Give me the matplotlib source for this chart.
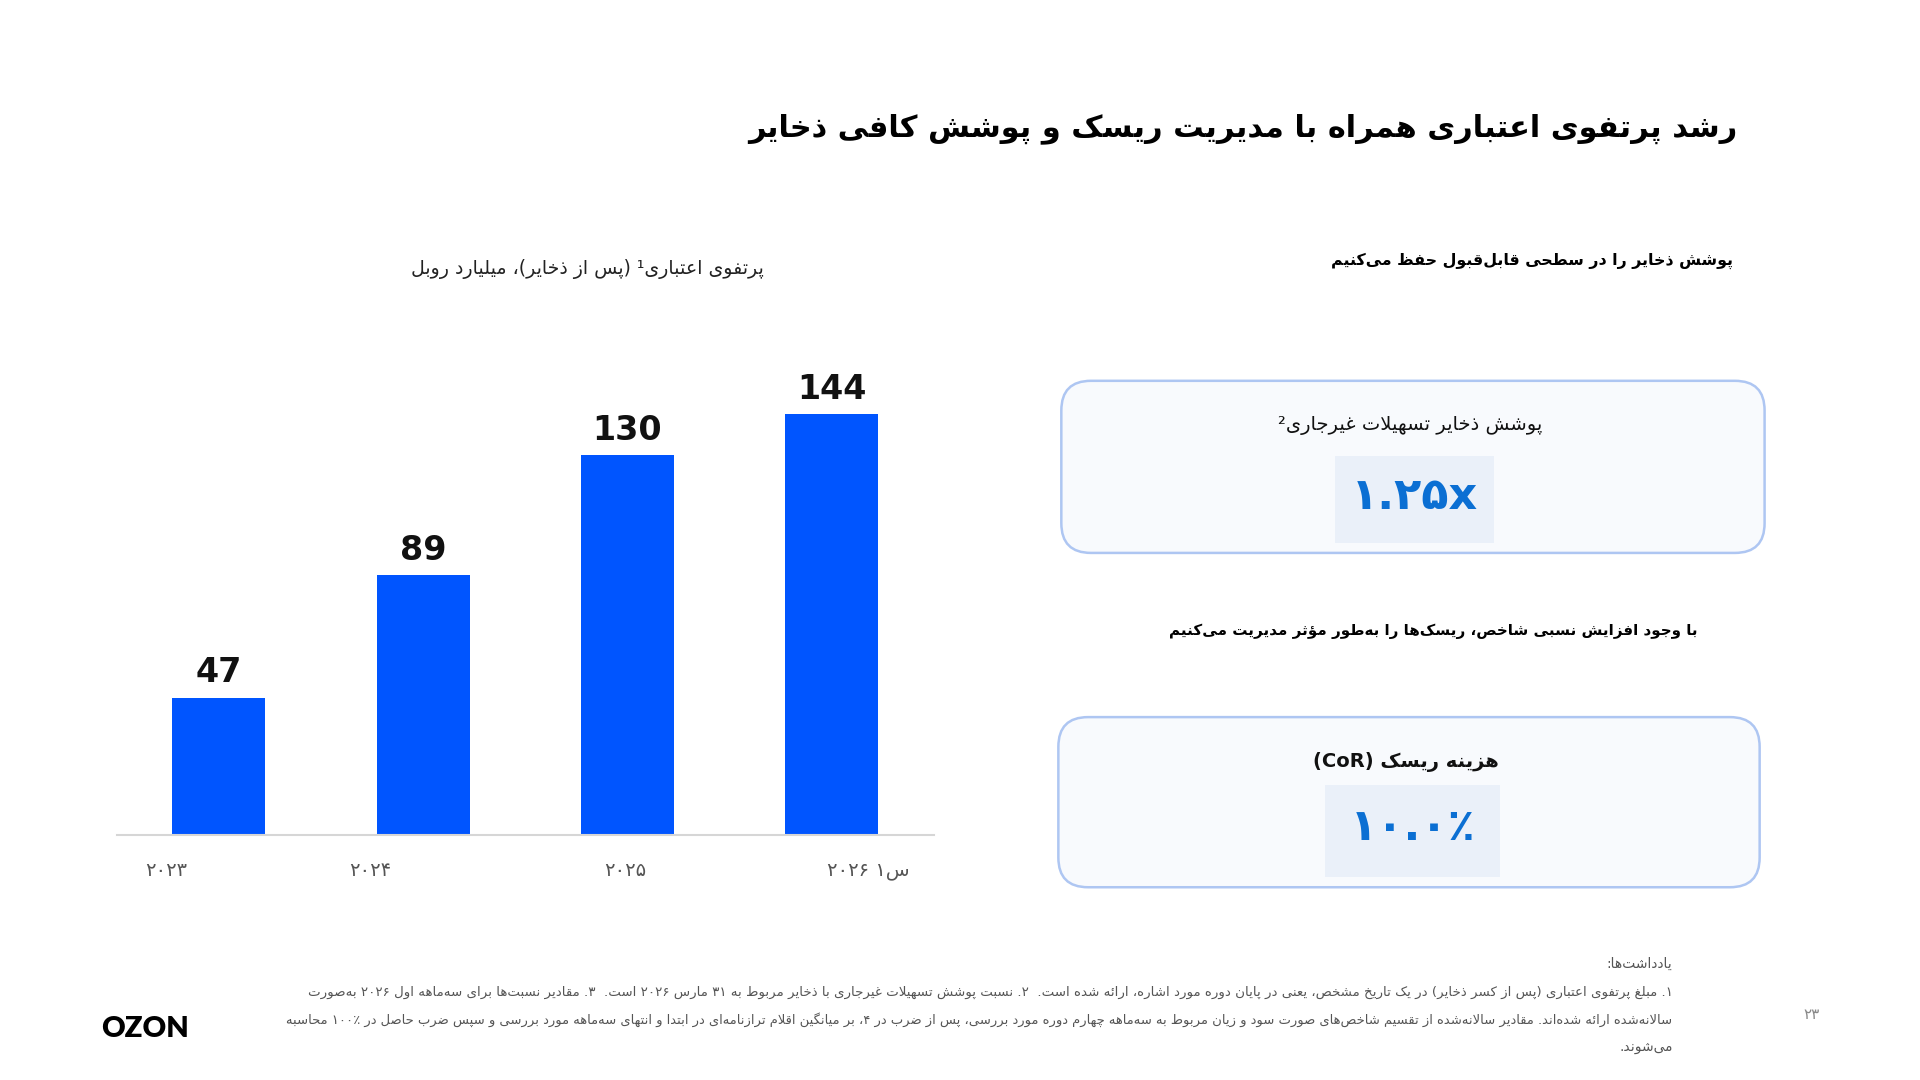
import re
import matplotlib
matplotlib.use('Agg')
import matplotlib.pyplot as plt
from matplotlib.patches import FancyBboxPatch, Rectangle

plt.rcParams['font.family'] = ['DejaVu Sans']

# ---- data ----
categories = ['۲۰۲۳', '۲۰۲۴', '۲۰۲۵', 'س۱ ۲۰۲۶']
portfolio = [47, 89, 130, 144]

title = 'رشد پرتفوی اعتباری همراه با مدیریت ریسک و پوشش کافی ذخایر'
chart_title = 'پرتفوی اعتباری¹ (پس از ذخایر)، میلیارد روبل'
right_head = 'پوشش ذخایر را در سطحی قابل\u200cقبول حفظ می\u200cکنیم'
kpi1_label = 'پوشش ذخایر تسهیلات غیرجاری²'
kpi1_value = '۱.۲۵x'
mid_text = 'با وجود افزایش نسبی شاخص، ریسک\u200cها را به\u200cطور مؤثر مدیریت می\u200cکنیم'
kpi2_label = 'هزینه ریسک (CoR)'
kpi2_value = '۱۰.۰٪'
notes_head = 'یادداشت\u200cها:'
notes = [
    '۱. مبلغ پرتفوی اعتباری (پس از کسر ذخایر) در یک تاریخ مشخص، یعنی در پایان دوره مورد اشاره، ارائه شده است.  ۲. نسبت پوشش تسهیلات غیرجاری با ذخایر مربوط به ۳۱ مارس ۲۰۲۶ است.  ۳. مقادیر نسبت\u200cها برای سه\u200cماهه اول ۲۰۲۶ به\u200cصورت',
    'سالانه\u200cشده ارائه شده\u200cاند. مقادیر سالانه\u200cشده از تقسیم شاخص\u200cهای صورت سود و زیان مربوط به سه\u200cماهه چهارم دوره مورد بررسی، پس از ضرب در ۴، بر میانگین اقلام ترازنامه\u200cای در ابتدا و انتهای سه\u200cماهه مورد بررسی و سپس ضرب حاصل در ۱۰۰٪ محاسبه',
    'می\u200cشوند.',
]
page_no = '۲۳'

# ---- minimal Persian shaping + bidi (matplotlib has no complex text layout) ----
FORMS = {
    'ا': (0xFE8D, 0xFE8E), 'آ': (0xFE81, 0xFE82), 'أ': (0xFE83, 0xFE84),
    'ؤ': (0xFE85, 0xFE86), 'إ': (0xFE87, 0xFE88), 'ة': (0xFE93, 0xFE94),
    'د': (0xFEA9, 0xFEAA), 'ذ': (0xFEAB, 0xFEAC), 'ر': (0xFEAD, 0xFEAE),
    'ز': (0xFEAF, 0xFEB0), 'و': (0xFEED, 0xFEEE), 'ژ': (0xFB8A, 0xFB8B),
    'ى': (0xFEEF, 0xFEF0),
    'ئ': (0xFE89, 0xFE8A, 0xFE8B, 0xFE8C), 'ب': (0xFE8F, 0xFE90, 0xFE91, 0xFE92),
    'ت': (0xFE95, 0xFE96, 0xFE97, 0xFE98), 'ث': (0xFE99, 0xFE9A, 0xFE9B, 0xFE9C),
    'ج': (0xFE9D, 0xFE9E, 0xFE9F, 0xFEA0), 'ح': (0xFEA1, 0xFEA2, 0xFEA3, 0xFEA4),
    'خ': (0xFEA5, 0xFEA6, 0xFEA7, 0xFEA8), 'س': (0xFEB1, 0xFEB2, 0xFEB3, 0xFEB4),
    'ش': (0xFEB5, 0xFEB6, 0xFEB7, 0xFEB8), 'ص': (0xFEB9, 0xFEBA, 0xFEBB, 0xFEBC),
    'ض': (0xFEBD, 0xFEBE, 0xFEBF, 0xFEC0), 'ط': (0xFEC1, 0xFEC2, 0xFEC3, 0xFEC4),
    'ظ': (0xFEC5, 0xFEC6, 0xFEC7, 0xFEC8), 'ع': (0xFEC9, 0xFECA, 0xFECB, 0xFECC),
    'غ': (0xFECD, 0xFECE, 0xFECF, 0xFED0), 'ف': (0xFED1, 0xFED2, 0xFED3, 0xFED4),
    'ق': (0xFED5, 0xFED6, 0xFED7, 0xFED8), 'ك': (0xFED9, 0xFEDA, 0xFEDB, 0xFEDC),
    'ل': (0xFEDD, 0xFEDE, 0xFEDF, 0xFEE0), 'م': (0xFEE1, 0xFEE2, 0xFEE3, 0xFEE4),
    'ن': (0xFEE5, 0xFEE6, 0xFEE7, 0xFEE8), 'ه': (0xFEE9, 0xFEEA, 0xFEEB, 0xFEEC),
    'ي': (0xFEF1, 0xFEF2, 0xFEF3, 0xFEF4), 'پ': (0xFB56, 0xFB57, 0xFB58, 0xFB59),
    'چ': (0xFB7A, 0xFB7B, 0xFB7C, 0xFB7D), 'ک': (0xFB8E, 0xFB8F, 0xFB90, 0xFB91),
    'گ': (0xFB92, 0xFB93, 0xFB94, 0xFB95), 'ی': (0xFBFC, 0xFBFD, 0xFBFE, 0xFBFF),
}
LAM_ALEF = {'ا': (0xFEFB, 0xFEFC), 'آ': (0xFEF5, 0xFEF6),
            'أ': (0xFEF7, 0xFEF8), 'إ': (0xFEF9, 0xFEFA)}


def reshape(s):
    out = []
    i = 0
    n = len(s)
    while i < n:
        c = s[i]
        if c not in FORMS:
            if c != '\u200c':
                out.append(c)
            i += 1
            continue
        prev = s[i - 1] if i > 0 else ''
        join_prev = prev in FORMS and len(FORMS[prev]) == 4
        if c == 'ل' and i + 1 < n and s[i + 1] in LAM_ALEF:
            out.append(chr(LAM_ALEF[s[i + 1]][1 if join_prev else 0]))
            i += 2
            continue
        nxt = s[i + 1] if i + 1 < n else ''
        join_next = len(FORMS[c]) == 4 and nxt in FORMS
        f = FORMS[c]
        if join_prev and join_next:
            g = f[3]
        elif join_prev:
            g = f[1]
        elif join_next:
            g = f[2]
        else:
            g = f[0]
        out.append(chr(g))
        i += 1
    return ''.join(out)


LTR_RUN = re.compile(r'[0-9A-Za-z\u06F0-\u06F9¹²]+(?:[.][0-9\u06F0-\u06F9]+)*[%٪x]?')
MIRROR = str.maketrans('()[]', ')(][')


def fa(s):
    s = reshape(s)
    runs = []
    pos = 0
    for m in LTR_RUN.finditer(s):
        if m.start() > pos:
            runs.append(s[pos:m.start()][::-1].translate(MIRROR))
        runs.append(m.group())
        pos = m.end()
    if pos < len(s):
        runs.append(s[pos:][::-1].translate(MIRROR))
    return ''.join(runs[::-1])


# ---- figure ----
W, H = 1920, 1080
K = 1.011  # layout coords below were measured on a slightly smaller grid
fig = plt.figure(figsize=(19.2, 10.8), dpi=100)
fig.patch.set_facecolor('white')

# overlay in layout coordinates for text and cards
ov = fig.add_axes([0, 0, 1, 1])
ov.set_xlim(0, W * K)
ov.set_ylim(H * K, 0)
ov.axis('off')

renderer = fig.canvas.get_renderer()


def fit(t, width):
    bb = t.get_window_extent(renderer)
    t.set_fontsize(t.get_fontsize() * width / K / bb.width)


t = ov.text(1757, 130, fa(title), ha='right', va='center', fontsize=25,
            fontweight='bold', color='black')
fit(t, 1000)

t = ov.text(594, 272, fa(chart_title), ha='center', va='center', fontsize=15,
            color='#222222')
fit(t, 355)

t = ov.text(1752, 264, fa(right_head), ha='right', va='center', fontsize=14,
            fontweight='bold', color='black')
fit(t, 408)

# KPI cards
cards = [
    (1073, 385, 711, 174, 1350, 461, 160, 88, 430, 502, kpi1_label, kpi1_value, 'normal'),
    (1070, 725, 709, 172, 1340, 794, 177, 93, 770, 837, kpi2_label, kpi2_value, 'bold'),
]
for (x, y, w, h, ix, iy, iw, ih, ly, vy, lab, val, lw_) in cards:
    ov.add_patch(FancyBboxPatch((x, y), w, h, boxstyle='round,pad=0,rounding_size=30',
                                facecolor='#f8fafd', edgecolor='#aec6f2', linewidth=1.8))
    ov.add_patch(Rectangle((ix, iy), iw, ih, facecolor='#eaf0f9', edgecolor='none'))
    ov.text(x + w / 2 - 3, ly, fa(lab), ha='center', va='center', fontsize=14,
            fontweight=lw_, color='#111111')
    ov.text(ix + iw / 2, vy, fa(val), ha='center', va='center', fontsize=32,
            fontweight='bold', color='#0b6fd3')

t = ov.text(1716, 638, fa(mid_text), ha='right', va='center', fontsize=14,
            fontweight='bold', color='black')
fit(t, 536)

# notes
ov.text(1691, 974, fa(notes_head), ha='right', va='center', fontsize=10, color='#555555')
note_y = [1003, 1031, 1059]
note_w = [1379, 1405, None]
for s, yy, ww in zip(notes, note_y, note_w):
    t = ov.text(1691, yy, fa(s), ha='right', va='center', fontsize=10, color='#555555')
    if ww:
        fit(t, ww)

ov.text(1831, 1026, fa(page_no), ha='center', va='center', fontsize=11, color='#888888')
ov.text(102, 1040, 'OZON', ha='left', va='center', fontsize=21, fontweight='heavy',
        family=['Lato', 'DejaVu Sans'], color='black')

# ---- bar chart ----
left, right, base, top = 118 / K, 944 / K, 844 / K, 300 / K
ax = fig.add_axes([left / W, 1 - base / H, (right - left) / W, (base - top) / H])
xs = list(range(len(portfolio)))
bars = ax.bar(xs, portfolio, width=0.455, color='#0055ff', zorder=2)
ax.set_xlim(-0.5, 3.5)
ax.set_ylim(0, 184.3)
for s in ['top', 'right', 'left']:
    ax.spines[s].set_visible(False)
ax.spines['bottom'].set_color('#d6d6d6')
ax.spines['bottom'].set_linewidth(1.5)
ax.set_yticks([])
ax.set_xticks([])
ax.patch.set_alpha(0)

for b, v in zip(bars, portfolio):
    ax.annotate(str(v), (b.get_x() + b.get_width() / 2, v), xytext=(0, 6),
                textcoords='offset points', ha='center', va='bottom', fontsize=24,
                fontweight='bold', color='#111111')

label_shift = [-0.26, -0.26, -0.01, 0.18]
for x, lab, dx in zip(xs, categories, label_shift):
    ax.annotate(fa(lab), (x + dx, 0), xytext=(0, -26), textcoords='offset points',
                ha='center', va='center', fontsize=14, color='#555555')

fig.savefig('out.png', dpi=100)
